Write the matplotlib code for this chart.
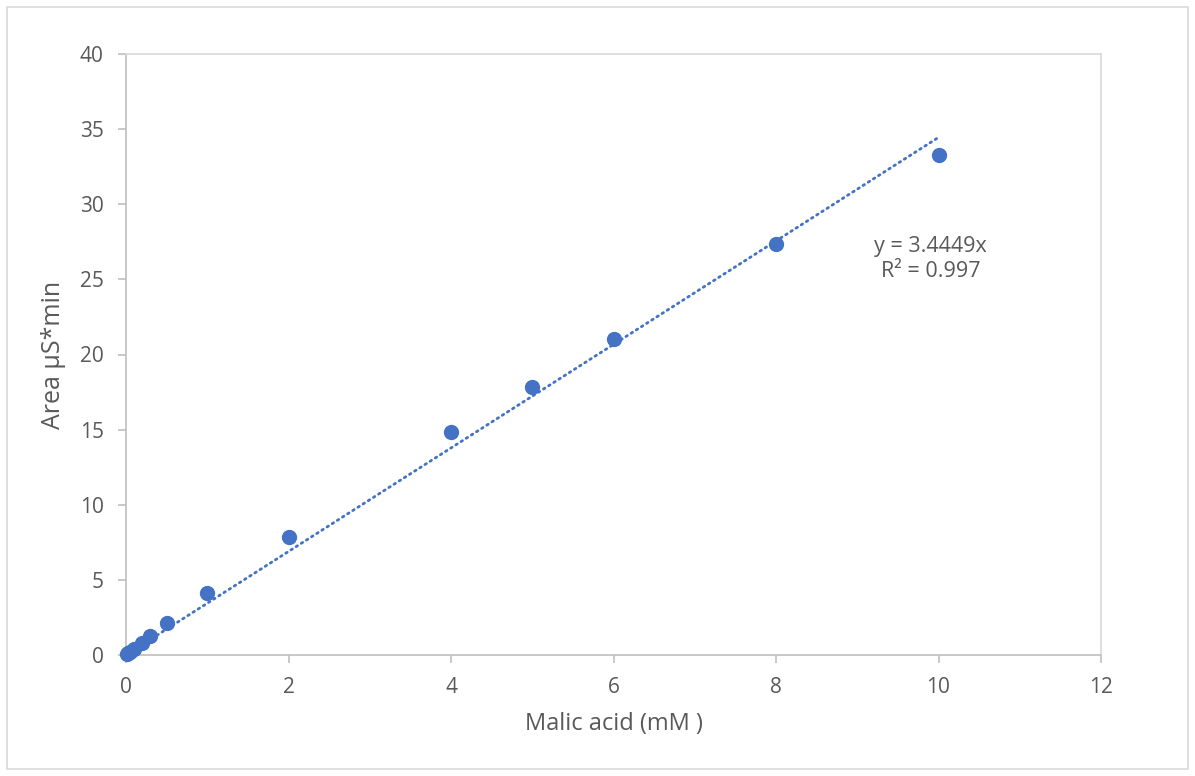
import matplotlib
matplotlib.use("Agg")
import matplotlib.pyplot as plt
import numpy as np
from matplotlib.patches import Rectangle

conc = [0.01, 0.025, 0.05, 0.1, 0.2, 0.3, 0.5, 1, 2, 4, 5, 6, 8, 10]
area = [0.04, 0.1, 0.2, 0.4, 0.8, 1.25, 2.1, 4.15, 7.85, 14.85, 17.85, 21.05, 27.35, 33.3]
slope = 3.4449
r2 = 0.997
xticks = [0, 2, 4, 6, 8, 10, 12]
yticks = [0, 5, 10, 15, 20, 25, 30, 35, 40]

plt.rcParams['font.family'] = ['Open Sans', 'DejaVu Sans']
txt = '#595959'
grid = '#BFBFBF'
blue = '#4472C4'

fig = plt.figure(figsize=(11.95, 7.76), dpi=100)
fig.patches.append(Rectangle((7/1195, 7/776), 1 - 14/1195, 1 - 14/776, transform=fig.transFigure,
                             fill=False, edgecolor='#D9D9D9', linewidth=1.2))
ax = fig.add_axes([126/1195, 121/776, (1101-126)/1195, (655-54)/776])

xl = np.array([0, 10])
ax.plot(xl, slope * xl, linestyle=(0, (0.6, 1.6)), color=blue, linewidth=2.0,
        dash_capstyle='round', zorder=2)
ax.plot(conc, area, 'o', color=blue, markersize=10, zorder=3, clip_on=False)

ax.set_xlim(0, 12)
ax.set_ylim(0, 40)
ax.set_xticks(xticks)
ax.set_yticks(yticks)
ax.tick_params(axis='both', colors=grid, labelcolor=txt, labelsize=15, length=6, width=1.2, direction='out')
ax.tick_params(axis='x', pad=10)
ax.tick_params(axis='y', pad=10)
for s in ax.spines.values():
    s.set_color('#D9D9D9')
    s.set_linewidth(1.2)
ax.spines['left'].set_color(grid)
ax.spines['bottom'].set_color(grid)

ax.set_xlabel('Malic acid (mM )', color=txt, fontsize=17, labelpad=10)
ax.set_ylabel('Area µS*min', color=txt, fontsize=18, labelpad=10)

ax.text(9.9, 26.35, f'y = {slope}x\nR² = {r2}', color=txt, fontsize=15.5,
        ha='center', va='center', multialignment='center', linespacing=1.25)

fig.savefig('out.png', dpi=100)
